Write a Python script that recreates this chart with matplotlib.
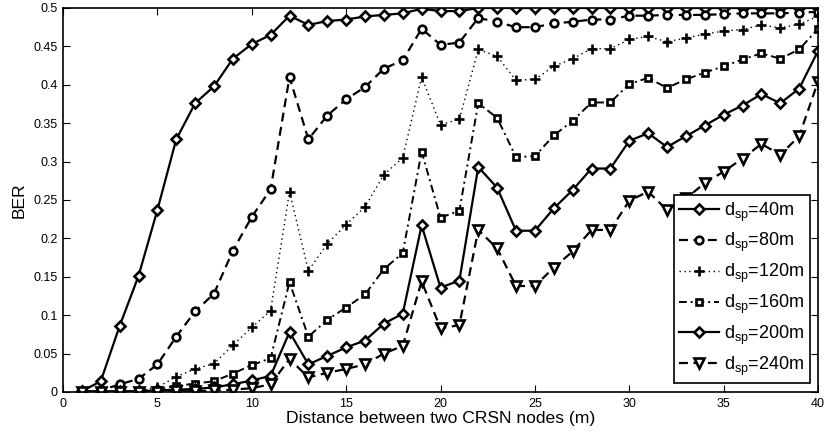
import matplotlib
matplotlib.use("Agg")
import matplotlib.pyplot as plt
from matplotlib.ticker import FuncFormatter, MultipleLocator

plt.rcParams['font.family'] = ['Liberation Sans', 'DejaVu Sans']
plt.rcParams['mathtext.default'] = 'regular'

# Distance between the two CRSN nodes (m)
distance = list(range(1, 41))

# Bit error rate for each sensing distance d_sp
ber_40 = [0.001, 0.014, 0.086, 0.151, 0.237, 0.329, 0.376, 0.398, 0.434, 0.453,
          0.465, 0.490, 0.478, 0.483, 0.485, 0.489, 0.491, 0.493, 0.499, 0.496,
          0.496, 0.500, 0.500, 0.500, 0.500, 0.500, 0.500, 0.500, 0.500, 0.500,
          0.500, 0.500, 0.500, 0.500, 0.500, 0.500, 0.500, 0.500, 0.500, 0.500]
ber_80 = [0.000, 0.002, 0.010, 0.017, 0.036, 0.072, 0.105, 0.128, 0.184, 0.228,
          0.264, 0.410, 0.329, 0.360, 0.381, 0.397, 0.421, 0.432, 0.473, 0.452,
          0.455, 0.487, 0.482, 0.475, 0.475, 0.480, 0.482, 0.485, 0.485, 0.490,
          0.490, 0.491, 0.491, 0.491, 0.492, 0.493, 0.493, 0.493, 0.494, 0.495]
ber_120 = [0.000, 0.000, 0.001, 0.002, 0.006, 0.020, 0.030, 0.037, 0.061, 0.084,
           0.106, 0.261, 0.158, 0.193, 0.218, 0.241, 0.283, 0.305, 0.410, 0.348,
           0.355, 0.446, 0.437, 0.406, 0.407, 0.424, 0.434, 0.447, 0.447, 0.459,
           0.463, 0.456, 0.461, 0.466, 0.470, 0.472, 0.478, 0.474, 0.479, 0.489]
ber_160 = [0.000, 0.000, 0.000, 0.001, 0.003, 0.008, 0.011, 0.014, 0.024, 0.035,
           0.044, 0.143, 0.072, 0.094, 0.110, 0.127, 0.160, 0.181, 0.313, 0.227,
           0.236, 0.376, 0.357, 0.306, 0.307, 0.334, 0.353, 0.377, 0.377, 0.401,
           0.409, 0.396, 0.407, 0.416, 0.424, 0.433, 0.441, 0.434, 0.446, 0.473]
ber_200 = [0.001, 0.001, 0.001, 0.001, 0.002, 0.003, 0.004, 0.006, 0.010, 0.015,
           0.021, 0.078, 0.036, 0.047, 0.058, 0.067, 0.089, 0.102, 0.217, 0.136,
           0.145, 0.293, 0.266, 0.210, 0.210, 0.239, 0.263, 0.291, 0.291, 0.327,
           0.337, 0.319, 0.333, 0.347, 0.361, 0.373, 0.388, 0.376, 0.395, 0.444]
ber_240 = [0.000, 0.000, 0.000, 0.000, 0.000, 0.001, 0.001, 0.002, 0.003, 0.005,
           0.010, 0.043, 0.019, 0.025, 0.030, 0.036, 0.050, 0.060, 0.144, 0.083,
           0.087, 0.211, 0.187, 0.138, 0.138, 0.162, 0.183, 0.211, 0.211, 0.249,
           0.261, 0.237, 0.252, 0.272, 0.287, 0.304, 0.323, 0.309, 0.333, 0.404]

labels = ['$d_{sp}$=40m', '$d_{sp}$=80m', '$d_{sp}$=120m',
          '$d_{sp}$=160m', '$d_{sp}$=200m', '$d_{sp}$=240m']
series = [ber_40, ber_80, ber_120, ber_160, ber_200, ber_240]

styles = [
    dict(marker='D', dashes=[], lw=1.6, ms=5.0),
    dict(marker='o', dashes=[4, 2.5], lw=1.6, ms=5.5),
    dict(marker='+', dashes=[1, 2.5], lw=1.0, ms=7),
    dict(marker='s', dashes=[4, 2, 1, 2], lw=1.4, ms=5.0),
    dict(marker='D', dashes=[], lw=1.6, ms=5.0),
    dict(marker='v', dashes=[4, 2.5], lw=1.6, ms=6.5),
]

fig = plt.figure(figsize=(8.24, 4.37), dpi=100)
ax = fig.add_axes([63 / 824, 1 - 392 / 437, (818 - 63) / 824, (392 - 8) / 437])

for y, lab, st in zip(series, labels, styles):
    line, = ax.plot(distance, y, color='black', linewidth=st['lw'],
                    marker=st['marker'], markersize=st['ms'],
                    markerfacecolor='white', markeredgecolor='black',
                    markeredgewidth=1.9, label=lab)
    if st['dashes']:
        line.set_dashes(st['dashes'])

ax.set_xlim(0, 40)
ax.set_ylim(0, 0.5)
ax.xaxis.set_major_locator(MultipleLocator(5))
ax.yaxis.set_major_locator(MultipleLocator(0.05))
ax.yaxis.set_major_formatter(FuncFormatter(lambda v, p: f'{v:.2f}'.rstrip('0').rstrip('.')))
ax.tick_params(direction='in', length=5, width=0.8, top=True, right=True,
               labelsize=9, pad=4)
for sp in ax.spines.values():
    sp.set_linewidth(1.2)

ax.set_xlabel('Distance between two CRSN nodes (m)', fontsize=12.6, labelpad=1)
ax.set_ylabel('BER', fontsize=12.6, labelpad=5)

leg = ax.legend(loc='lower right', bbox_to_anchor=(810 / 824, 1 - 383 / 437),
                bbox_transform=fig.transFigure, borderaxespad=0,
                fontsize=13, fancybox=False, framealpha=1, edgecolor='black',
                handlelength=2.2, handletextpad=0.3, labelspacing=0.42,
                borderpad=0.3)
leg.get_frame().set_linewidth(1.2)

fig.savefig('out.png', dpi=100)
